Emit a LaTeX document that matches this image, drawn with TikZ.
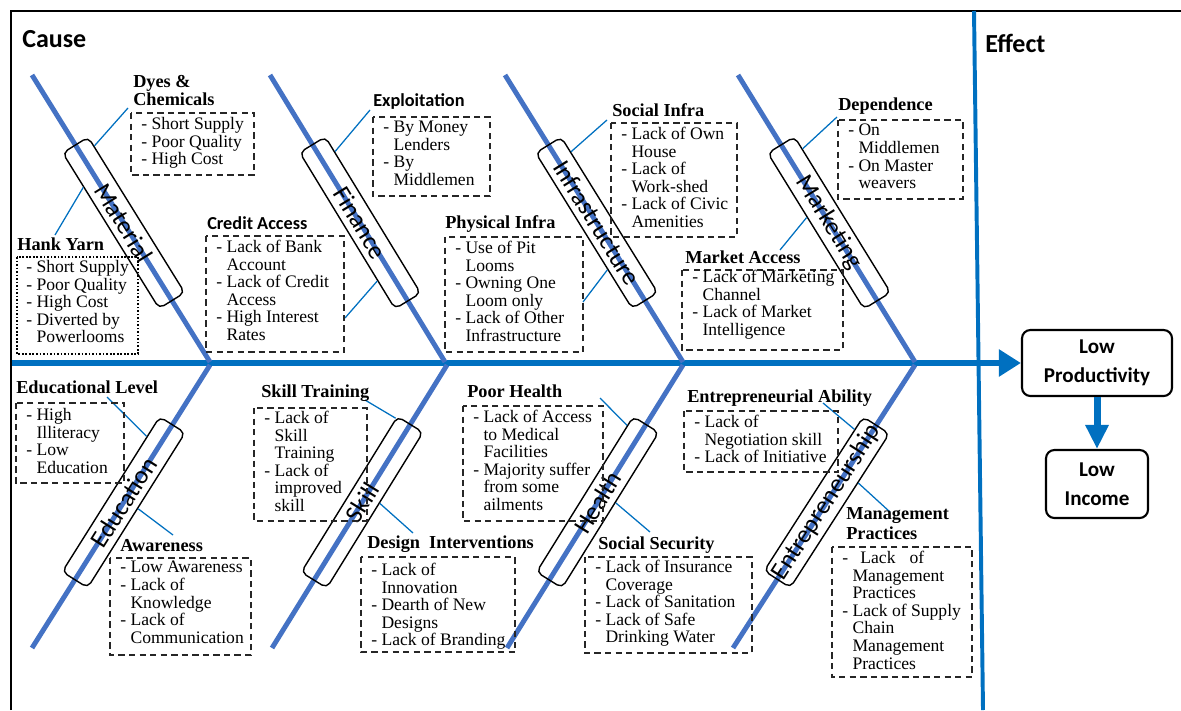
\documentclass[tikz,border=0pt]{standalone}
\usepackage{fontspec}
\setmainfont{Liberation Serif}
\newfontfamily\calibri{Carlito}
\usetikzlibrary{arrows.meta}
\definecolor{spineblue}{RGB}{0,112,192}
\definecolor{boneblue}{RGB}{68,114,196}
\newcommand{\indt}{\hphantom{- }}

\begin{document}
\begin{tikzpicture}[x=0.025cm, y=-0.025cm,
  bone/.style={boneblue, line width=3.5pt},
  spine/.style={spineblue, line width=4.3pt},
  twig/.style={spineblue, line width=0.9pt},
  bonebox/.style={draw=black, text=black, line width=1pt, rounded corners=4pt, sloped,
    minimum width=4.575cm, minimum height=0.75cm, inner xsep=1pt,
    font=\calibri\fontsize{18}{18}\selectfont},
  dashbox/.style={black!85, line width=0.9pt, dash pattern=on 4.5pt off 3pt},
  dotbox/.style={black, line width=1pt, dash pattern=on 1.2pt off 1.3pt},
  items/.style={anchor=north west, align=left, inner sep=0pt,
    font=\fontsize{12.5}{12.5}\selectfont},
  head/.style={anchor=base west, inner sep=0pt, font=\bfseries\fontsize{13}{13}\selectfont},
  shead/.style={anchor=base west, inner sep=0pt, font=\calibri\bfseries\fontsize{13}{13}\selectfont},
  title/.style={anchor=base west, inner sep=0pt, font=\calibri\bfseries\fontsize{18.5}{18.5}\selectfont},
  effectbox/.style={draw, line width=1.5pt, rounded corners=6pt, align=center,
    font=\calibri\bfseries\fontsize{15}{20.5}\selectfont}]

\useasboundingbox (0,0) rectangle (1181,710);
\draw[line width=1.4pt] (11,710) -- (11,11) -- (1181,11);
\draw[spineblue, line width=2.8pt] (974,11) -- (983,710);

\node[title] (cause) at (22,47) {Cause};
\node[title] (effect) at (985,52) {Effect};

\node[effectbox, minimum width=3.75cm, minimum height=1.65cm] (lowprod) at (1097,363) {Low\\Productivity};
\node[effectbox, minimum width=2.55cm, minimum height=1.7cm] (lowinc) at (1097,484) {Low\\Income};

\draw[spine, -{Triangle[length=0.55cm, width=0.65cm]}] (12,363) -- (lowprod);
\draw[spineblue, line width=5pt, -{Triangle[length=0.6cm, width=0.55cm]}] (lowprod) -- (lowinc);

\draw[bone] (32,75) -- node[bonebox, pos=0.515] (matbox) {Material} (210,362);
\draw[bone] (270,75) -- node[bonebox, pos=0.515] (finbox) {Finance} (445,362);
\draw[bone] (505,75) -- node[bonebox, pos=0.515] (infbox) {Infrastructure} (683,362);
\draw[bone] (738,75) -- node[bonebox, pos=0.515] (mktbox) {Marketing} (915,362);
\draw[bone] (32,648) -- node[bonebox, pos=0.515] (edubox) {Education} (210,365);
\draw[bone] (272,648) -- node[bonebox, pos=0.515] (sklbox) {Skill} (447,365);
\draw[bone] (507,648) -- node[bonebox, pos=0.515] (hltbox) {Health} (683,365);
\draw[bone] (733,648) -- node[bonebox, pos=0.515] (entbox) {Entrepreneurship} (915,365);

\draw[twig] (matbox.169) -- (128,108) coordinate (dyestw);
\draw[twig] (matbox.197) -- (55,235) coordinate (hanktw);
\draw[twig] (finbox.168) -- (370,110) coordinate (exptw);
\draw[twig] (finbox.345) -- (345,318) coordinate (credtw);
\draw[twig] (infbox.168) -- (607,120) coordinate (soctw);
\draw[twig] (infbox.341) -- (583,302) coordinate (phystw);
\draw[twig] (mktbox.168) -- (837,117) coordinate (deptw);
\draw[twig] (mktbox.225) -- (780,250) coordinate (markettw);
\draw[twig] (edubox.13) -- (107,397) coordinate (edlevtw);
\draw[twig] (edubox.278) -- (173,535) coordinate (awaretw);
\draw[twig] (sklbox.10) -- (365,400) coordinate (skltrtw);
\draw[twig] (sklbox.298) -- (413,533) coordinate (designtw);
\draw[twig] (hltbox.11) -- (600,398) coordinate (poortw);
\draw[twig] (hltbox.300) -- (650,532) coordinate (socsectw);
\draw[twig] (entbox.12) -- (823,403) coordinate (entabtw);
\draw[twig] (entbox.334) -- (890,512) coordinate (mgmttw);

\node[anchor=north west, align=left, inner sep=0pt, font=\bfseries\fontsize{13}{11.4}\selectfont] (dyes) at (133,75.5) {Dyes \&\\Chemicals};
\draw[dashbox] (131,113) rectangle (254,175);
\node[items] (dyesl) at (141,117) {- Short Supply\\- Poor Quality\\- High Cost};

\node[head] (hank) at (17,250) {Hank Yarn};
\draw[dotbox] (17,257) rectangle (138,354);
\node[items] (hankl) at (26,260) {- Short Supply\\- Poor Quality\\- High Cost\\- Diverted by\\\indt Powerlooms};

\node[shead] (credit) at (207,229) {Credit Access};
\draw[dashbox] (206,236) rectangle (344,352);
\node[items] (creditl) at (216,240) {- Lack of Bank\\\indt Account\\- Lack of Credit\\\indt Access\\- High Interest\\\indt Rates};

\node[shead] (exploit) at (373,106.5) {Exploitation};
\draw[dashbox] (373,117) rectangle (490,196);
\node[items] (exploitl) at (383,121) {- By Money\\\indt Lenders\\- By\\\indt Middlemen};

\node[head] (phys) at (445,228) {Physical Infra};
\draw[dashbox] (445,237) rectangle (583,352);
\node[items] (physl) at (455,241) {- Use of Pit\\\indt Looms\\- Owning One\\\indt Loom only\\- Lack of Other\\\indt Infrastructure};

\node[head] (social) at (612,116) {Social Infra};
\draw[dashbox] (611,123) rectangle (737,237);
\node[items] (sociall) at (621,127) {- Lack of Own\\\indt House\\- Lack of\\\indt Work-shed\\- Lack of Civic\\\indt Amenities};

\node[head] (dep) at (838,110.5) {Dependence};
\draw[dashbox] (838,120) rectangle (963,199);
\node[items] (depl) at (848,124) {- On\\\indt Middlemen\\- On Master\\\indt weavers};

\node[head] (market) at (685,263) {Market Access};
\draw[dashbox] (682,270) rectangle (843,350);
\node[items] (marketl) at (692,270) {- Lack of Marketing\\\indt Channel\\- Lack of Market\\\indt Intelligence};

\node[head] (edlev) at (16,393) {Educational Level};
\draw[dashbox] (16,403) rectangle (124,483);
\node[items] (edlevl) at (26,408) {- High\\\indt Illiteracy\\- Low\\\indt Education};

\node[head] (aware) at (120,551) {Awareness};
\draw[dashbox] (110,558) rectangle (251,655);
\node[items] (awarel) at (120,561) {- Low Awareness\\- Lack of\\\indt Knowledge\\- Lack of\\\indt Communication};

\node[head] (skltr) at (261,397) {Skill Training};
\draw[dashbox] (254,408) rectangle (367,521);
\node[items] (skltrl) at (264,411) {- Lack of\\\indt Skill\\\indt Training\\- Lack of\\\indt improved\\\indt skill};

\node[head] (design) at (367,548) {Design\ \ Interventions};
\draw[dashbox] (361,557) rectangle (515,652);
\node[items] (designl) at (371,563) {- Lack of\\\indt Innovation\\- Dearth of New\\\indt Designs\\- Lack of Branding};

\node[head] (poor) at (467,397) {Poor Health};
\draw[dashbox] (463,406) rectangle (603,521);
\node[items] (poorl) at (473,410) {- Lack of Access\\\indt to Medical\\\indt Facilities\\- Majority suffer\\\indt from some\\\indt ailments};

\node[head] (socsec) at (598,549) {Social Security};
\draw[dashbox] (585,557) rectangle (752,653);
\node[items] (socsecl) at (595,560) {- Lack of Insurance\\\indt Coverage\\- Lack of Sanitation\\- Lack of Safe\\\indt Drinking Water};

\node[head] (entab) at (687,402) {Entrepreneurial Ability};
\draw[dashbox] (684,411) rectangle (838,472);
\node[items] (entabl) at (694,415) {- Lack of\\\indt Negotiation skill\\- Lack of Initiative};

\node[anchor=north west, align=left, inner sep=0pt, font=\bfseries\fontsize{13}{14.2}\selectfont] (mgmt) at (846,507.5) {Management\\Practices};
\draw[dashbox] (832,547) rectangle (972,677);
\node[items] (mgmtl) at (842,551) {-\hspace{0.7em}Lack\hspace{0.8em}of\\\indt Management\\\indt Practices\\- Lack of Supply\\\indt Chain\\\indt Management\\\indt Practices};
\end{tikzpicture}
\end{document}
